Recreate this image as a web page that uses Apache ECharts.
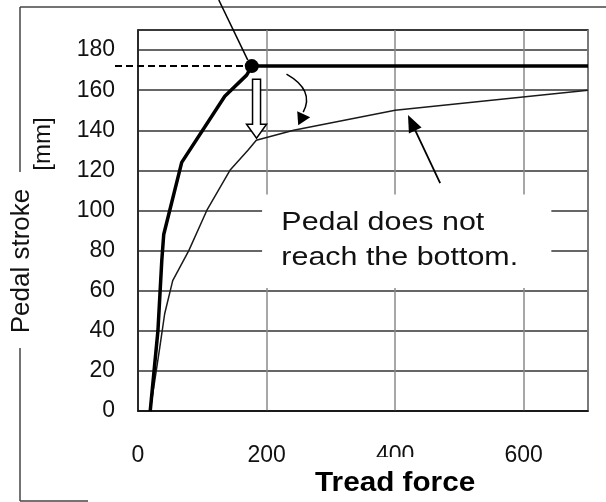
<!DOCTYPE html>
<html>
<head>
<meta charset="utf-8">
<script src="https://cdn.jsdelivr.net/npm/echarts@6/dist/echarts.min.js"></script>
<style>
  html, body { margin: 0; padding: 0; background: #fff; }
  #chart { width: 606px; height: 502px; }
</style>
</head>
<body>
<div id="chart"></div>
<script>
// pedal reaches the bottom (thick line)
const forceFull = [19, 31, 37, 40, 68, 135, 169, 177, 700]
const strokeFull = [0, 40, 75, 88, 124, 157, 167.5, 172, 172]
// pedal does not reach the bottom (thin line)
const forceShort = [19, 34, 41.5, 54, 79, 107, 143, 171, 184, 242, 400, 700]
const strokeShort = [0, 32, 48.5, 65, 80, 100, 120, 130, 135, 140, 150, 160]
const bottomIndex = 7 // the dot where the full stroke stops

const xMin = 0, xMax = 700, xStep = 200
const yMin = 0, yMax = 190, yStep = 20
const xName = 'Tread force'
const yName = 'Pedal stroke'
const yUnit = '[mm]'
const noteLines = ['Pedal does not', 'reach the bottom.']

const font = '"Liberation Sans", Arial, Helvetica, sans-serif'

const fullData = forceFull.map((x, i) => i === bottomIndex
  ? { value: [x, strokeFull[i]], symbol: 'circle', symbolSize: 14, itemStyle: { color: '#000' } }
  : [x, strokeFull[i]])
const shortData = forceShort.map((x, i) => [x, strokeShort[i]])

const chart = echarts.init(document.getElementById('chart'))

const option = {
  animation: false,
  backgroundColor: '#fff',
  grid: {
    left: 138, right: 18, top: 30, bottom: 91,
    show: true, borderColor: '#111', borderWidth: 1.5
  },
  xAxis: {
    type: 'value', min: xMin, max: xMax, interval: xStep,
    axisLine: { lineStyle: { color: '#111', width: 1.5 } },
    axisTick: { show: false },
    axisLabel: { margin: 33, fontSize: 23, color: '#111', fontFamily: font, showMaxLabel: false },
    splitLine: { lineStyle: { color: '#8a8a8a', width: 1.5 } }
  },
  yAxis: {
    type: 'value', min: yMin, max: yMax, interval: yStep,
    axisLine: { show: true, lineStyle: { color: '#111', width: 1.5 } },
    axisTick: { show: false },
    axisLabel: { margin: 23, fontSize: 23, color: '#111', fontFamily: font, showMaxLabel: false, padding: [10, 0, 0, 0] },
    splitLine: { lineStyle: { color: '#333', width: 1.5 } }
  },
  series: [
    {
      type: 'line', data: shortData, symbol: 'none', z: 3,
      lineStyle: { color: '#1a1a1a', width: 1.5 }
    },
    {
      type: 'line', data: fullData, symbol: 'none', z: 4,
      lineStyle: { color: '#000', width: 3.5 }
    }
  ]
}
chart.setOption(option)

// annotations, placed from data coordinates
const p = (x, y) => chart.convertToPixel({ gridIndex: 0 }, [x, y])
const dot = p(forceFull[bottomIndex], strokeFull[bottomIndex])
const left = p(xMin, yMin)[0]

// hollow down arrow
const ax = p(184.4, 0)[0], aTop = p(0, 165.5)[1], aBase = p(0, 143)[1], aTip = p(0, 136)[1]
// curved arrow
const c0 = p(231, 168), c1 = p(275, 160), c2 = p(257, 149)
// straight arrow
const sTip = p(420, 147.6), sTail = p(470, 113.6)
const dx = sTip[0] - sTail[0], dy = sTip[1] - sTail[1], len = Math.hypot(dx, dy)
const ux = dx / len, uy = dy / len
const hb = [sTip[0] - ux * 17, sTip[1] - uy * 17]
// note box
const b0 = p(193, 108), b1 = p(643, 61.3)
const tx = p(223, 0)[0]
const axisName = p(400, 0)[0]

chart.setOption({
  graphic: [
    // figure frame pieces
    { type: 'line', shape: { x1: 20, y1: 7, x2: 606, y2: 7 }, style: { stroke: '#444', lineWidth: 1.5 } },
    { type: 'line', shape: { x1: 20, y1: 7, x2: 20, y2: 172 }, style: { stroke: '#444', lineWidth: 1.5 } },
    { type: 'line', shape: { x1: 20, y1: 348, x2: 20, y2: 501 }, style: { stroke: '#444', lineWidth: 1.5 } },
    { type: 'line', shape: { x1: 20, y1: 501, x2: 88, y2: 501 }, style: { stroke: '#444', lineWidth: 1.5 } },
    // leader to the dot
    { type: 'line', shape: { x1: dot[0] - 33, y1: 0, x2: dot[0] - 4, y2: dot[1] - 6 }, style: { stroke: '#000', lineWidth: 1.5 } },
    // dashed level of the full stroke
    { type: 'line', shape: { x1: left - 23, y1: dot[1], x2: dot[0], y2: dot[1] }, style: { stroke: '#000', lineWidth: 2, lineDash: [7, 4] } },
    // hollow arrow
    {
      type: 'polygon', z: 10,
      shape: { points: [[ax - 4, aTop], [ax + 4, aTop], [ax + 4, aBase], [ax + 10, aBase], [ax, aTip], [ax - 10, aBase], [ax - 4, aBase]] },
      style: { fill: '#fff', stroke: '#000', lineWidth: 1.5 }
    },
    // curved arrow
    { type: 'bezierCurve', shape: { x1: c0[0], y1: c0[1], cpx1: c1[0], cpy1: c1[1], x2: c2[0], y2: c2[1] }, style: { stroke: '#000', lineWidth: 1.5, fill: null } },
    { type: 'polygon', shape: { points: [[c2[0] - 6, c2[1] - 1], [c2[0] - 5, c2[1] + 13], [c2[0] + 7, c2[1] + 5]] }, style: { fill: '#000' } },
    // straight arrow
    { type: 'line', shape: { x1: sTail[0], y1: sTail[1], x2: hb[0], y2: hb[1] }, style: { stroke: '#000', lineWidth: 1.8 } },
    {
      type: 'polygon',
      shape: { points: [sTip, [hb[0] - uy * 7, hb[1] + ux * 7], [hb[0] + uy * 7, hb[1] - ux * 7]] },
      style: { fill: '#000' }
    },
    // note
    { type: 'rect', z: 20, shape: { x: b0[0], y: b0[1], width: b1[0] - b0[0], height: b1[1] - b0[1] }, style: { fill: '#fff' } },
    {
      type: 'text', z: 21, x: tx, y: p(0, 93.7)[1], scaleX: 1.17,
      style: { text: noteLines[0], font: '26px ' + font, fill: '#111', textVerticalAlign: 'middle' }
    },
    {
      type: 'text', z: 21, x: tx, y: p(0, 76.3)[1], scaleX: 1.17,
      style: { text: noteLines[1], font: '26px ' + font, fill: '#111', textVerticalAlign: 'middle' }
    },
    // x axis name with its white backing
    { type: 'rect', z: 20, shape: { x: axisName - 85, y: 457, width: 170, height: 44 }, style: { fill: '#fff' } },
    {
      type: 'text', z: 21, x: axisName, y: 484, scaleX: 1.1,
      style: { text: xName, font: 'bold 27px ' + font, fill: '#000', textAlign: 'center', textVerticalAlign: 'middle' }
    },
    // y axis name and unit
    {
      type: 'text', x: 22, y: 261, rotation: Math.PI / 2,
      style: { text: yName, font: '26px ' + font, fill: '#111', textAlign: 'center', textVerticalAlign: 'middle' }
    },
    {
      type: 'text', x: 43, y: 144, rotation: Math.PI / 2,
      style: { text: yUnit, font: '24px ' + font, fill: '#111', textAlign: 'center', textVerticalAlign: 'middle' }
    }
  ]
})
</script>
</body>
</html>
